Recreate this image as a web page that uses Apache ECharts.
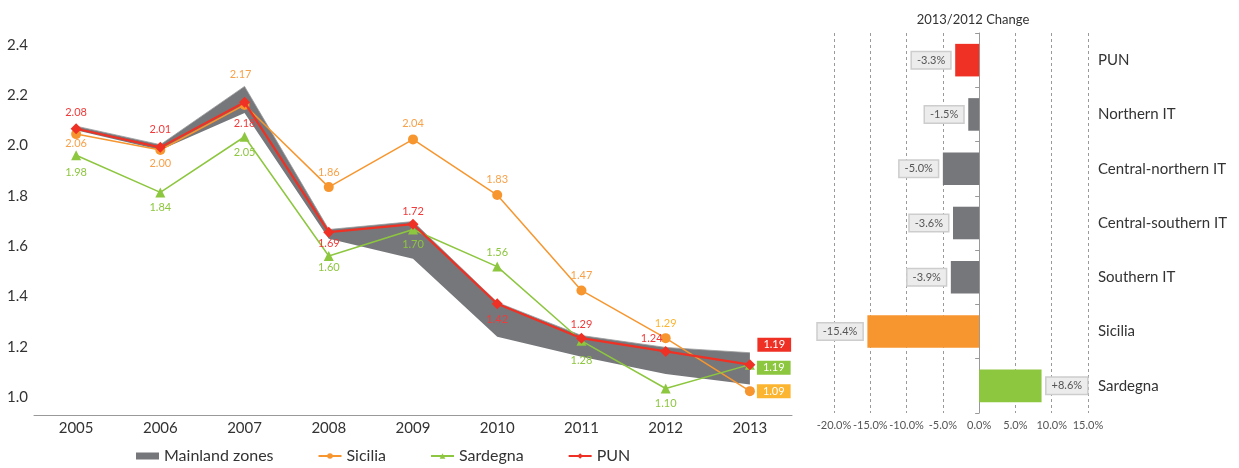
<!DOCTYPE html>
<html>
<head>
<meta charset="utf-8">
<script src="https://cdn.jsdelivr.net/npm/echarts@6.0.0/dist/echarts.min.js"></script>
<style>
  html, body { margin: 0; padding: 0; background: #fff; }
  #main { width: 1239px; height: 468px; }
</style>
</head>
<body>
<div id="main"></div>
<script>
// years and prices (€/kWh index)
const years = ['2005', '2006', '2007', '2008', '2009', '2010', '2011', '2012', '2013']
const punValues = [2.08, 2.01, 2.18, 1.69, 1.72, 1.42, 1.29, 1.24, 1.19]
const siciliaValues = [2.06, 2.00, 2.17, 1.86, 2.04, 1.83, 1.47, 1.29, 1.09]
const sardegnaValues = [1.98, 1.84, 2.05, 1.60, 1.70, 1.56, 1.28, 1.10, 1.19]
// mainland zones range (min / max)
const mainlandLow = [2.075, 2.00, 2.14, 1.665, 1.59, 1.295, 1.22, 1.155, 1.115]
const mainlandHigh = [2.09, 2.02, 2.24, 1.70, 1.73, 1.425, 1.30, 1.255, 1.235]

// 2013/2012 change
const changeZones = ['PUN', 'Northern IT', 'Central-northern IT', 'Central-southern IT', 'Southern IT', 'Sicilia', 'Sardegna']
const changeValues = [-3.3, -1.5, -5.0, -3.6, -3.9, -15.4, 8.6]

const FONT = 'Lato, "Open Sans", sans-serif'
const RED = '#ee3124'
const ORANGE = '#f7962f'
const GREEN = '#8dc63f'
const GREY = '#76777b'
const YELLOW = '#fcb531'

// label placement for each point: [position, dx, dy]
const punPlace = [['top', 0, 0], ['top', 0, -2], ['bottom', 0, 5], ['bottom', 0, -5], ['top', 0, 3], ['bottom', 0, 0], ['top', 0, 2], ['top', -14, 3], ['end', 0, -20]]
const sicPlace = [['bottom', 0, -6], ['bottom', 0, -2], ['top', -4, -15], ['top', 0, 1], ['top', 0, 0], ['top', 0, 0], ['top', 0, 1], ['top', 0, 1], ['end', 0, 0]]
const sarPlace = [['bottom', 0, 2], ['bottom', 0, 0], ['bottom', 0, 0], ['bottom', 0, -4], ['bottom', 0, -1], ['top', 0, 1], ['bottom', 0, 4], ['bottom', 0, -1], ['end', 0, 3]]
const barColors = [RED, GREY, GREY, GREY, GREY, ORANGE, GREEN]

function pointData(values, place, color, boxColor, specialColor) {
    return values.map((v, i) => {
        let p = place[i]
        let label
        if (p[0] == 'end') {
            label = {
                position: 'right', distance: 2, offset: [0, p[2]],
                color: '#fff', backgroundColor: boxColor, padding: [2, 6, 1, 6],
                fontSize: 11
            }
        } else {
            label = { position: p[0], offset: [p[1], p[2]] }
            if (specialColor && specialColor[i]) label.color = specialColor[i]
        }
        return { value: v, label: label }
    })
}

var myChart = echarts.init(document.getElementById('main'))
let option = {
    animation: false,
    textStyle: { fontFamily: FONT },
    title: {
        text: '2013/2012 Change',
        left: 968, top: 8, textAlign: 'center',
        textStyle: { fontSize: 13, fontWeight: 'normal', color: '#333', fontFamily: FONT }
    },
    legend: {
        data: [{ name: 'Mainland zones', icon: 'rect' }, 'Sicilia', 'Sardegna', 'PUN'],
        left: 136, top: 448,
        itemWidth: 23, itemHeight: 7, itemGap: 44, padding: 0,
        textStyle: { fontSize: 16, color: '#333', fontFamily: FONT }
    },
    grid: [
        { left: 34, right: 447, top: 44, bottom: 53 },
        { left: 34, right: 447, top: 45, bottom: 71 },
        { left: 834, right: 151, top: 33, bottom: 55 }
    ],
    xAxis: [
        {
            gridIndex: 0, type: 'category', data: years,
            axisLine: { lineStyle: { color: '#999' } },
            axisTick: { show: false },
            axisLabel: { fontSize: 15, color: '#333', margin: 6, fontFamily: FONT }
        },
        { gridIndex: 1, type: 'value', min: 0, max: 1, show: false },
        {
            gridIndex: 2, type: 'value', min: -20, max: 15, interval: 5,
            axisLine: { show: false }, axisTick: { show: false },
            splitLine: { lineStyle: { color: '#9a9a9a', type: [3, 3] } },
            axisLabel: {
                fontSize: 11, color: '#555', margin: 7, fontFamily: FONT,
                formatter: v => v.toFixed(1) + '%'
            }
        }
    ],
    yAxis: [
        { gridIndex: 0, type: 'value', min: 1.0, max: 2.4, show: false },
        {
            gridIndex: 1, type: 'value', min: 1.0, max: 2.4, interval: 0.2,
            axisLine: { show: false }, axisTick: { show: false }, splitLine: { show: false },
            axisLabel: { fontSize: 15, color: '#333', margin: 6, fontFamily: FONT, formatter: v => v.toFixed(1) }
        },
        {
            gridIndex: 2, type: 'category', data: changeZones, inverse: true, position: 'right',
            axisLine: { show: false, onZero: false }, axisTick: { show: false },
            axisLabel: { fontSize: 15, color: '#333', margin: 10, fontFamily: FONT }
        },
        {
            gridIndex: 2, type: 'category', data: changeZones, inverse: true, position: 'left',
            axisLine: { show: true, onZero: true, lineStyle: { color: '#999' } },
            axisTick: { show: true, length: 4, lineStyle: { color: '#999' } },
            axisLabel: { show: false }
        }
    ],
    series: [
        {
            name: 'base', type: 'line', stack: 'band', data: mainlandLow,
            symbol: 'none', lineStyle: { width: 0 }, silent: true, z: 1
        },
        {
            name: 'Mainland zones', type: 'line', stack: 'band',
            data: mainlandHigh.map((v, i) => +(v - mainlandLow[i]).toFixed(3)),
            symbol: 'none', lineStyle: { width: 0.8, color: '#9a9a9c' },
            itemStyle: { color: GREY },
            areaStyle: { color: GREY, opacity: 1 }, z: 1
        },
        {
            name: 'Sicilia', type: 'line', data: pointData(siciliaValues, sicPlace, ORANGE, YELLOW, { 7: YELLOW }),
            symbol: 'circle', symbolSize: 10, color: ORANGE,
            lineStyle: { width: 1.5 },
            label: { show: true, fontSize: 11, color: '#f7a24a', formatter: p => p.value.toFixed(2) }, z: 3
        },
        {
            name: 'Sardegna', type: 'line', data: pointData(sardegnaValues, sarPlace, GREEN, GREEN),
            symbol: 'triangle', symbolSize: 10, color: GREEN,
            lineStyle: { width: 1.5 },
            label: { show: true, fontSize: 11, color: GREEN, formatter: p => p.value.toFixed(2) }, z: 3
        },
        {
            name: 'PUN', type: 'line', data: pointData(punValues, punPlace, RED, RED),
            symbol: 'diamond', symbolSize: 11, color: RED,
            lineStyle: { width: 2.2 },
            label: { show: true, fontSize: 11, color: '#ef3b3b', formatter: p => p.value.toFixed(2) }, z: 4
        },
        {
            name: 'change', type: 'bar', xAxisIndex: 2, yAxisIndex: 3,
            data: changeValues.map((v, i) => ({
                value: v,
                itemStyle: { color: barColors[i] },
                label: { position: v < 0 ? 'left' : 'right' }
            })),
            barCategoryGap: '40%',
            label: {
                show: true, distance: 5, fontSize: 11, color: '#555',
                backgroundColor: '#ececec', borderColor: '#cdcdcd', borderWidth: 1.5,
                padding: [3, 5, 2, 5],
                formatter: p => (p.value > 0 ? '+' : '') + p.value.toFixed(1) + '%'
            }
        }
    ]
}
myChart.setOption(option)
</script>
</body>
</html>
